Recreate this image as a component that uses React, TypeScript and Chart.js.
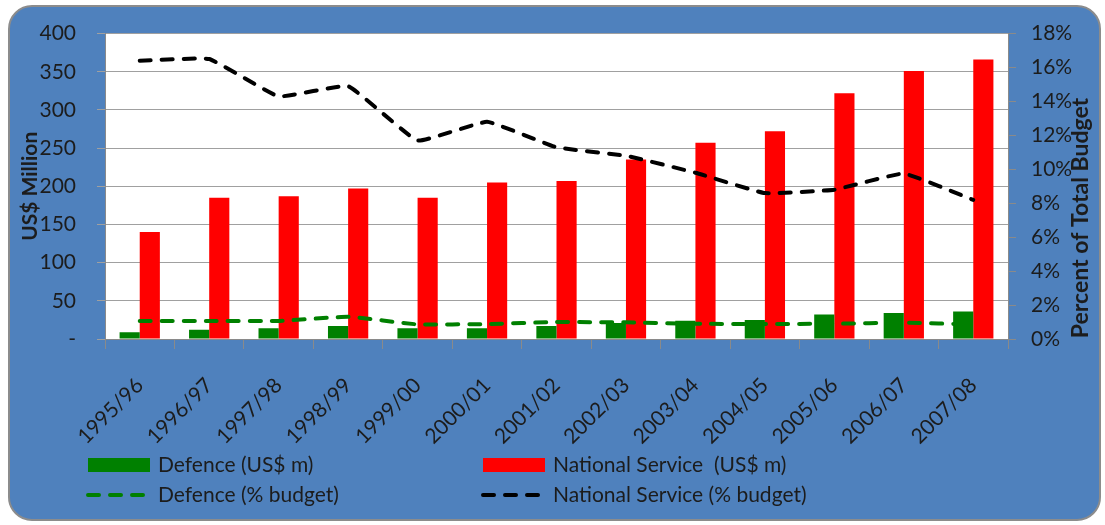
import React, { useEffect, useRef } from "react";
import { Chart, registerables } from "chart.js";

Chart.register(...registerables);

const categories = [
  "1995/96", "1996/97", "1997/98", "1998/99", "1999/00", "2000/01", "2001/02",
  "2002/03", "2003/04", "2004/05", "2005/06", "2006/07", "2007/08",
];
const defenceUsd = [9, 12, 14, 17, 14, 14, 17, 21, 24, 25, 32, 34, 36];
const nationalServiceUsd = [140, 185, 187, 197, 185, 205, 207, 235, 257, 272, 322, 351, 366];
const defencePct = [1.06, 1.06, 1.06, 1.31, 0.86, 0.88, 1.0, 0.98, 0.9, 0.88, 0.9, 0.96, 0.86];
const nationalServicePct = [16.4, 16.5, 14.3, 14.9, 11.7, 12.8, 11.3, 10.8, 9.8, 8.6, 8.8, 9.75, 8.2];

const legendLabels = [
  "Defence (US$ m)",
  "National Service  (US$ m)",
  "Defence (% budget)",
  "National Service (% budget)",
];
const leftAxisTitle = "US$ Million";
const rightAxisTitle = "Percent of Total Budget";

const FONT = "Lato, 'Open Sans', sans-serif";
const TEXT = "#1c1c1c";

const chartAreaBg = {
  id: "chartAreaBg",
  beforeDraw(chart: any) {
    const { ctx, chartArea } = chart;
    if (!chartArea) return;
    ctx.save();
    ctx.fillStyle = "#ffffff";
    ctx.fillRect(chartArea.left, chartArea.top, chartArea.right - chartArea.left, chartArea.bottom - chartArea.top);
    ctx.restore();
  },
};

const rightTitle = {
  id: "rightTitle",
  afterDraw(chart: any) {
    const { ctx } = chart;
    ctx.save();
    ctx.translate(1081, 218);
    ctx.rotate(-Math.PI / 2);
    ctx.fillStyle = TEXT;
    ctx.font = `bold 23px ${FONT}`;
    ctx.textAlign = "center";
    ctx.textBaseline = "middle";
    ctx.fillText(rightAxisTitle, 0, 0);
    ctx.restore();
  },
};

const customLegend = {
  id: "customLegend",
  afterDraw(chart: any) {
    const { ctx } = chart;
    const ds = chart.data.datasets;
    const cols = [88, 483];
    const rows = [465, 495];
    const items = [
      { d: ds[0], col: 0, row: 0 },
      { d: ds[1], col: 1, row: 0 },
      { d: ds[2], col: 0, row: 1 },
      { d: ds[3], col: 1, row: 1 },
    ];
    ctx.save();
    items.forEach((it) => {
      const x = cols[it.col];
      const y = rows[it.row];
      if (it.d.type === "bar") {
        ctx.fillStyle = it.d.backgroundColor;
        ctx.fillRect(x, y - 7, 62, 14);
      } else {
        ctx.strokeStyle = it.d.borderColor;
        ctx.lineWidth = it.d.borderWidth;
        ctx.lineCap = "round";
        ctx.setLineDash(it.d.borderDash);
        ctx.beginPath();
        ctx.moveTo(x, y);
        ctx.lineTo(x + 62, y);
        ctx.stroke();
        ctx.setLineDash([]);
      }
      ctx.fillStyle = TEXT;
      ctx.font = `21px ${FONT}`;
      ctx.textAlign = "left";
      ctx.textBaseline = "middle";
      ctx.fillText(it.d.label, x + 70, y);
    });
    ctx.restore();
  },
};

export default function App() {
  const ref = useRef<HTMLCanvasElement | null>(null);

  useEffect(() => {
    if (!ref.current) return;
    const chart = new Chart(ref.current, {
      type: "bar",
      data: {
        labels: categories,
        datasets: [
          {
            type: "bar",
            label: legendLabels[0],
            data: defenceUsd,
            backgroundColor: "#008000",
            yAxisID: "y",
            order: 2,
            categoryPercentage: 0.58,
            barPercentage: 1,
          },
          {
            type: "bar",
            label: legendLabels[1],
            data: nationalServiceUsd,
            backgroundColor: "#ff0000",
            yAxisID: "y",
            order: 2,
            categoryPercentage: 0.58,
            barPercentage: 1,
          },
          {
            type: "line",
            label: legendLabels[2],
            data: defencePct,
            borderColor: "#008000",
            backgroundColor: "#008000",
            borderWidth: 4,
            borderDash: [11, 11],
            borderCapStyle: "round",
            pointRadius: 0,
            tension: 0.1,
            yAxisID: "y1",
            order: 1,
          },
          {
            type: "line",
            label: legendLabels[3],
            data: nationalServicePct,
            borderColor: "#000000",
            backgroundColor: "#000000",
            borderWidth: 4,
            borderDash: [11, 11],
            borderCapStyle: "round",
            pointRadius: 0,
            tension: 0.1,
            yAxisID: "y1",
            order: 0,
          },
        ] as any,
      },
      options: {
        responsive: false,
        animation: false,
        layout: { padding: { top: 33, left: 0, right: 0, bottom: 0 } },
        plugins: {
          legend: { display: false },
          tooltip: { enabled: false },
        },
        scales: {
          x: {
            type: "category",
            offset: true,
            grid: {
              display: true,
              drawOnChartArea: false,
              drawTicks: true,
              tickLength: 10,
              color: "#8a8a8a",
              offset: true,
            },
            border: { color: "#8a8a8a", width: 1 },
            ticks: {
              minRotation: 45,
              maxRotation: 45,
              autoSkip: false,
              color: TEXT,
              padding: 24,
              font: { family: FONT, size: 21 },
            },
            afterFit(scale: any) {
              scale.height = 186;
            },
          },
          y: {
            position: "left",
            min: 0,
            max: 400,
            ticks: {
              stepSize: 50,
              color: TEXT,
              padding: 21,
              font: { family: FONT, size: 21 },
              callback: (v: any) => (v === 0 ? "-" : String(v)),
            },
            grid: {
              color: "#a0a0a0",
              tickLength: 8,
              drawTicks: true,
            },
            border: { color: "#8a8a8a" },
            title: {
              display: true,
              text: leftAxisTitle,
              color: TEXT,
              font: { family: FONT, size: 21, weight: "bold" },
              padding: { top: 18, bottom: 0 },
            },
            afterFit(scale: any) {
              scale.width = 105;
            },
          },
          y1: {
            position: "right",
            min: 0,
            max: 18,
            ticks: {
              stepSize: 2,
              color: TEXT,
              padding: 15,
              font: { family: FONT, size: 21 },
              callback: (v: any) => `${v}%`,
            },
            grid: {
              drawOnChartArea: false,
              color: "#8a8a8a",
              tickLength: 8,
              drawTicks: true,
            },
            border: { color: "#8a8a8a" },
            afterFit(scale: any) {
              scale.width = 97;
            },
          },
        },
      } as any,
      plugins: [chartAreaBg, customLegend, rightTitle],
    });
    return () => chart.destroy();
  }, []);

  return (
    <div style={{ position: "fixed", left: 0, top: 0, width: 1105, height: 525, background: "#ffffff" }}>
      <div
        style={{
          position: "absolute",
          left: 8,
          top: 5,
          width: 1093,
          height: 516,
          boxSizing: "border-box",
          background: "#4f81bd",
          border: "2px solid #8c8c8c",
          borderRadius: 24,
        }}
      />
      <canvas ref={ref} width={1105} height={525} style={{ position: "absolute", left: 0, top: 0 }} />
    </div>
  );
}
